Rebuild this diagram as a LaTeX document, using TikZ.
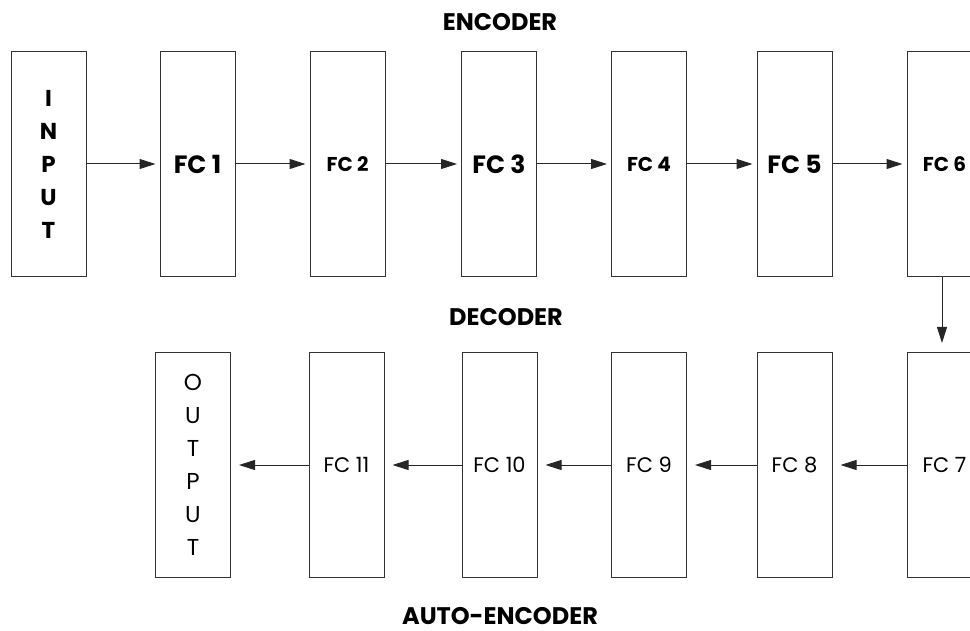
\documentclass[tikz,border=0pt]{standalone}
\usepackage{fontspec}
\setmainfont{Poppins}
\usetikzlibrary{arrows.meta}
\tikzset{
  layer/.style={draw=black!80, line width=1pt, fill=white, minimum width=75pt, minimum height=225pt, inner sep=0pt},
  flow/.style={draw=black!85, line width=1pt, -{Triangle[length=16pt,width=10pt]}},
  big/.style={font=\fontsize{25}{25}\selectfont\bfseries},
  small/.style={font=\fontsize{20}{20}\selectfont\bfseries},
  dec/.style={font=\fontsize{21}{21}\selectfont},
  title/.style={inner sep=0pt, font=\fontsize{24}{24}\selectfont\bfseries},
  vert/.style={align=center, font=\fontsize{23}{33}\selectfont}
}
\begin{document}
\begin{tikzpicture}[x=1pt,y=-1pt]
\useasboundingbox (0,0) rectangle (970,631);
\begin{scope}
\clip (0,0) rectangle (970,631);
% encoder row
\node[layer, vert, font=\fontsize{23}{33}\selectfont\bfseries] (in) at (48.5,164) {I\\N\\P\\U\\T};
\node[layer, big] (fc1) at (197.5,164) {FC 1};
\node[layer, small] (fc2) at (347.5,164) {FC 2};
\node[layer, big] (fc3) at (499,164) {FC 3};
\node[layer, small] (fc4) at (649,164) {FC 4};
\node[layer, big] (fc5) at (794.5,164) {FC 5};
\node[layer, small] (fc6) at (944.5,164) {FC 6};
% decoder row
\node[layer, vert] (out) at (193,465) {O\\U\\T\\P\\U\\T};
\node[layer, dec] (fc11) at (346.5,465) {FC 11};
\node[layer, dec] (fc10) at (499.5,465) {FC 10};
\node[layer, dec] (fc9) at (649,465) {FC 9};
\node[layer, dec] (fc8) at (794.5,465) {FC 8};
\node[layer, dec] (fc7) at (944.5,465) {FC 7};
% arrows
\foreach \a/\b in {in/fc1, fc1/fc2, fc2/fc3, fc3/fc4, fc4/fc5, fc5/fc6}
  \draw[flow, shorten >=4pt] (\a.east) -- (\b.west);
\foreach \a/\b in {fc7/fc8, fc8/fc9, fc9/fc10, fc10/fc11, fc11/out}
  \draw[flow, shorten >=8pt] (\a.west) -- (\b.east);
\draw[flow, shorten >=9pt] ([xshift=-2.5pt]fc6.south) -- ([xshift=-2.5pt]fc7.north);
\end{scope}
% titles
\node[title] (enc) at (500,22) {ENCODER};
\node[title] (decl) at (506,317) {DECODER};
\node[title] (ae) at (500,616) {AUTO-ENCODER};
\end{tikzpicture}
\end{document}
